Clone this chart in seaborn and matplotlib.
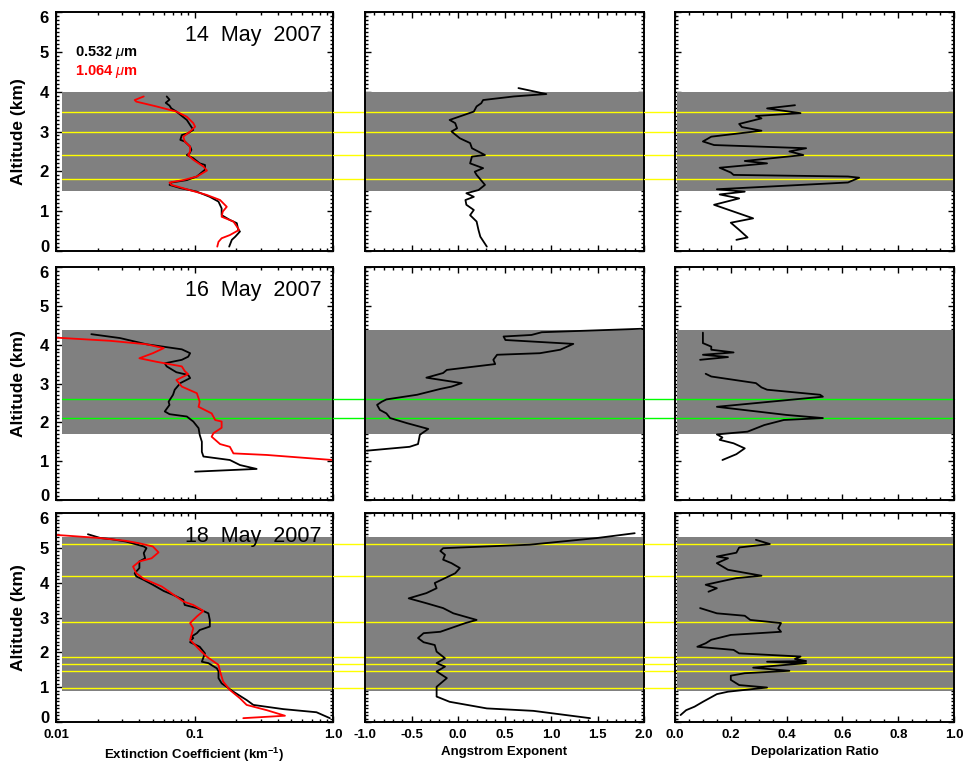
import numpy as np
import pandas as pd
import matplotlib
matplotlib.use("Agg")
import matplotlib.pyplot as plt
import matplotlib.transforms as mtransforms
from matplotlib.ticker import MultipleLocator, FixedLocator, LogLocator, NullFormatter
import seaborn as sns

# ---------------- data ----------------
# 14 May 2007
may14_alt_532 = [3.88, 3.80, 3.72, 3.65, 3.58, 3.50, 3.29, 3.04, 2.96, 2.91, 2.79, 2.75, 2.62, 2.54, 2.45, 2.41,
                 2.33, 2.20, 2.16, 2.04, 1.87, 1.78, 1.72, 1.66, 1.58, 1.49, 1.36, 1.24, 1.07, 0.90, 0.78, 0.70,
                 0.53, 0.49, 0.36, 0.28, 0.11]
may14_ext_532 = [0.063, 0.066, 0.062, 0.066, 0.068, 0.074, 0.088, 0.098, 0.090, 0.081, 0.079, 0.085, 0.093, 0.095,
                 0.092, 0.088, 0.098, 0.109, 0.119, 0.119, 0.104, 0.088, 0.068, 0.066, 0.079, 0.104, 0.129, 0.149,
                 0.157, 0.157, 0.180, 0.202, 0.207, 0.213, 0.197, 0.186, 0.178]
may14_alt_1064 = [3.88, 3.79, 3.75, 3.63, 3.50, 3.37, 3.21, 3.12, 3.00, 2.87, 2.75, 2.62, 2.50, 2.41, 2.29, 2.12,
                  2.02, 1.87, 1.78, 1.72, 1.66, 1.55, 1.41, 1.28, 1.11, 0.99, 0.86, 0.74, 0.53, 0.40, 0.32, 0.23,
                  0.11]
may14_ext_1064 = [0.043, 0.037, 0.038, 0.053, 0.074, 0.088, 0.098, 0.101, 0.093, 0.083, 0.085, 0.093, 0.093, 0.090,
                  0.098, 0.116, 0.123, 0.104, 0.083, 0.066, 0.068, 0.088, 0.122, 0.153, 0.171, 0.160, 0.157, 0.191,
                  0.210, 0.180, 0.157, 0.149, 0.146]
may14_alt_ae = [4.09, 3.94, 3.88, 3.79, 3.71, 3.63, 3.50, 3.29, 3.21, 3.08, 3.00, 2.83, 2.71, 2.58, 2.41, 2.37,
                2.20, 2.08, 1.99, 1.91, 1.66, 1.53, 1.45, 1.36, 1.28, 1.16, 1.03, 0.90, 0.74, 0.53, 0.36, 0.11]
may14_ae = [0.65, 0.95, 0.60, 0.27, 0.25, 0.20, 0.17, -0.09, -0.03, -0.01, -0.07, 0.02, 0.13, 0.15, 0.29, 0.15,
            0.13, 0.27, 0.18, 0.20, 0.29, 0.22, 0.09, 0.17, 0.08, 0.09, 0.17, 0.13, 0.20, 0.22, 0.24, 0.31]
may14_alt_dep = [3.66, 3.58, 3.46, 3.39, 3.33, 3.19, 3.11, 3.02, 2.87, 2.75, 2.66, 2.58, 2.50, 2.41, 2.26, 2.20,
                 2.09, 1.97, 1.91, 1.87, 1.84, 1.72, 1.55, 1.49, 1.42, 1.32, 1.16, 0.99, 0.82, 0.71, 0.53, 0.34,
                 0.28]
may14_dep = [0.43, 0.33, 0.45, 0.29, 0.31, 0.23, 0.24, 0.31, 0.13, 0.10, 0.14, 0.47, 0.41, 0.46, 0.25, 0.33,
             0.16, 0.20, 0.21, 0.62, 0.66, 0.62, 0.15, 0.25, 0.16, 0.23, 0.14, 0.21, 0.28, 0.20, 0.23, 0.26,
             0.22]
may14_seg = [0] * len(may14_dep)
may14_layer = (1.5, 4.0)
may14_marks = [3.5, 3.0, 2.4, 1.8]

# 16 May 2007
may16_alt_532 = [4.27, 4.17, 4.01, 3.88, 3.78, 3.69, 3.61, 3.52, 3.44, 3.29, 3.22, 3.14, 3.01, 2.84, 2.71, 2.53,
                 2.45, 2.28, 2.21, 2.15, 2.02, 1.85, 1.68, 1.50, 1.24, 1.12, 1.03, 0.90, 0.86, 0.80, 0.73]
may16_ext_532 = [0.018, 0.029, 0.045, 0.081, 0.093, 0.090, 0.081, 0.061, 0.063, 0.074, 0.090, 0.093, 0.079, 0.072,
                 0.070, 0.065, 0.066, 0.061, 0.066, 0.088, 0.098, 0.107, 0.109, 0.113, 0.113, 0.116, 0.180, 0.213,
                 0.238, 0.281, 0.101]
may16_alt_1064 = [4.18, 4.10, 4.01, 3.91, 3.78, 3.65, 3.56, 3.44, 3.32, 3.24, 3.09, 2.92, 2.75, 2.53, 2.40, 2.23,
                  2.06, 2.02, 1.86, 1.72, 1.63, 1.44, 1.37, 1.20, 1.16, 1.03]
may16_ext_1064 = [0.0101, 0.0245, 0.045, 0.060, 0.050, 0.040, 0.053, 0.081, 0.085, 0.090, 0.074, 0.081, 0.104, 0.109,
                  0.107, 0.133, 0.141, 0.157, 0.157, 0.137, 0.133, 0.153, 0.180, 0.191, 0.332, 0.99]
may16_alt_ae = [4.41, 4.32, 4.25, 4.21, 4.12, 4.02, 3.87, 3.78, 3.74, 3.61, 3.50, 3.35, 3.27, 3.15, 3.01, 2.92,
                2.86, 2.71, 2.59, 2.53, 2.45, 2.32, 2.23, 2.11, 1.98, 1.83, 1.68, 1.44, 1.37, 1.27]
may16_ae = [1.98, 0.90, 0.79, 0.49, 0.51, 1.24, 1.10, 0.88, 0.42, 0.38, 0.40, -0.12, -0.16, -0.34, 0.04, -0.07,
            -0.19, -0.44, -0.77, -0.82, -0.87, -0.84, -0.77, -0.73, -0.55, -0.32, -0.41, -0.43, -0.52, -0.98]
may16_alt_dep = [4.31, 4.04, 3.95, 3.87, 3.80, 3.74, 3.68, 3.61,
                 3.25, 3.18, 3.01, 2.90, 2.84, 2.71, 2.66, 2.40, 2.19, 2.11, 2.06, 1.93, 1.76, 1.69, 1.61, 1.55,
                 1.46, 1.33, 1.18, 1.12, 1.03]
may16_dep = [0.10, 0.10, 0.13, 0.13, 0.21, 0.10, 0.19, 0.09,
             0.11, 0.13, 0.29, 0.31, 0.33, 0.52, 0.53, 0.15, 0.40, 0.53, 0.39, 0.32, 0.26, 0.15, 0.17, 0.16,
             0.21, 0.25, 0.22, 0.20, 0.17]
may16_seg = [0] * 8 + [1] * 21
may16_layer = (1.7, 4.37)
may16_marks = [2.6, 2.1]

# 18 May 2007
may18_alt_532 = [5.39, 5.28, 5.25, 5.18, 5.04, 4.99, 4.85, 4.70, 4.61, 4.42, 4.27, 4.18, 4.08, 3.94, 3.76, 3.65,
                 3.51, 3.36, 3.27, 3.12, 2.93, 2.74, 2.64, 2.55, 2.45, 2.41, 2.36, 2.29, 2.16, 1.97, 1.73, 1.69,
                 1.54, 1.45, 1.26, 1.11, 0.87, 0.63, 0.49, 0.37, 0.28, 0.11]
may18_ext_532 = [0.017, 0.021, 0.025, 0.032, 0.043, 0.045, 0.043, 0.044, 0.040, 0.040, 0.037, 0.038, 0.043, 0.050,
                 0.060, 0.070, 0.083, 0.085, 0.104, 0.126, 0.129, 0.129, 0.109, 0.104, 0.095, 0.098, 0.095, 0.093,
                 0.109, 0.119, 0.113, 0.126, 0.145, 0.149, 0.149, 0.157, 0.191, 0.238, 0.266, 0.437, 0.76, 0.95]
may18_alt_1064 = [5.37, 5.28, 5.20, 5.13, 5.04, 4.87, 4.70, 4.61, 4.46, 4.27, 4.11, 3.89, 3.70, 3.46, 3.36, 3.19,
                  3.03, 2.84, 2.69, 2.36, 2.07, 1.88, 1.64, 1.45, 1.16, 0.92, 0.68, 0.49, 0.34, 0.18, 0.11]
may18_ext_1064 = [0.0101, 0.021, 0.032, 0.040, 0.050, 0.055, 0.049, 0.040, 0.036, 0.038, 0.043, 0.058, 0.068, 0.083,
                  0.098, 0.116, 0.104, 0.093, 0.098, 0.093, 0.109, 0.122, 0.149, 0.153, 0.161, 0.180, 0.213, 0.238,
                  0.332, 0.45, 0.225]
may18_alt_ae = [5.42, 5.28, 5.09, 5.04, 4.99, 4.91, 4.80, 4.66, 4.56, 4.42, 4.27, 4.13, 3.99, 3.84, 3.70, 3.55,
                3.41, 3.27, 3.12, 2.93, 2.84, 2.59, 2.55, 2.41, 2.29, 2.21, 2.02, 1.83, 1.69, 1.59, 1.45, 1.26,
                1.01, 0.73, 0.58, 0.39, 0.32, 0.11]
may18_ae = [1.90, 1.49, 0.77, 0.31, -0.16, -0.19, -0.14, -0.16, -0.07, 0.02, -0.03, -0.14, -0.25, -0.23, -0.34,
            -0.53, -0.34, -0.16, -0.05, 0.20, 0.08, -0.19, -0.37, -0.43, -0.37, -0.25, -0.23, -0.14, -0.23, -0.14,
            -0.23, -0.12, -0.23, -0.23, -0.09, 0.31, 0.81, 1.42]
may18_alt_dep = [5.23, 5.11, 5.01, 4.86, 4.75, 4.70, 4.56, 4.37, 4.27, 4.20, 4.13, 4.08, 3.94, 3.84, 3.74,
                 3.27, 3.12, 3.05, 2.93, 2.84, 2.69, 2.59, 2.50, 2.36, 2.26, 2.16, 2.07, 1.97, 1.88, 1.81, 1.75,
                 1.73, 1.69, 1.56, 1.47, 1.40, 1.33, 1.21, 1.06, 0.99, 0.87, 0.80, 0.58, 0.44, 0.34, 0.20]
may18_dep = [0.29, 0.34, 0.23, 0.22, 0.15, 0.19, 0.15, 0.19, 0.26, 0.31, 0.22, 0.19, 0.11, 0.15, 0.12,
             0.09, 0.15, 0.25, 0.27, 0.38, 0.37, 0.38, 0.20, 0.13, 0.11, 0.08, 0.21, 0.23, 0.45, 0.43, 0.47,
             0.33, 0.47, 0.28, 0.41, 0.25, 0.20, 0.20, 0.23, 0.33, 0.19, 0.15, 0.10, 0.07, 0.04, 0.02]
may18_seg = [0] * 15 + [1] * 31
may18_layer = (0.88, 5.3)
may18_marks = [5.1, 4.2, 2.87, 1.87, 1.67, 1.46, 0.98]

dates = ["14  May  2007", "16  May  2007", "18  May  2007"]
mark_colors = ["#ffff00", "#00ff00", "#ffff00"]

# ---------------- style ----------------
sns.set_style("ticks")
plt.rcParams['font.family'] = ['Liberation Sans', 'DejaVu Sans']
plt.rcParams['mathtext.fontset'] = 'custom'
plt.rcParams['mathtext.rm'] = 'Liberation Sans'
plt.rcParams['mathtext.it'] = 'Liberation Sans:italic'
plt.rcParams['mathtext.bf'] = 'Liberation Sans:bold'
# seaborn greys the text; the original is pure black
for key in ['text.color', 'axes.labelcolor', 'xtick.color', 'ytick.color', 'axes.edgecolor']:
    plt.rcParams[key] = 'black'

GRAY = "#808080"
RED = "#ff0000"

W, H = 963, 766
fig = plt.figure(figsize=(W / 100, H / 100), dpi=100)

cols_px = [(56, 333), (365, 644), (675, 954)]
rows_px = [(12, 251), (267, 500), (513, 722)]


def add_ax(c, r):
    x0, x1 = cols_px[c]
    y0, y1 = rows_px[r]
    return fig.add_axes([x0 / W, 1 - y1 / H, (x1 - x0) / W, (y1 - y0) / H])


rows = [
    dict(e532=(may14_alt_532, may14_ext_532), e1064=(may14_alt_1064, may14_ext_1064),
         ae=(may14_alt_ae, may14_ae), dep=(may14_alt_dep, may14_dep, may14_seg),
         layer=may14_layer, marks=may14_marks),
    dict(e532=(may16_alt_532, may16_ext_532), e1064=(may16_alt_1064, may16_ext_1064),
         ae=(may16_alt_ae, may16_ae), dep=(may16_alt_dep, may16_dep, may16_seg),
         layer=may16_layer, marks=may16_marks),
    dict(e532=(may18_alt_532, may18_ext_532), e1064=(may18_alt_1064, may18_ext_1064),
         ae=(may18_alt_ae, may18_ae), dep=(may18_alt_dep, may18_dep, may18_seg),
         layer=may18_layer, marks=may18_marks),
]

# where the gray band / marker lines start inside each column (axes fraction)
band_start = [(np.log10(0.011) + 2) / 2, 0.0, 0.006]
gap_start = [(np.log10(0.011) + 2) / 2, -(365 - 333) / 279, -(675 - 644) / 279]

left_axes = []
for r, rd in enumerate(rows):
    for c in range(3):
        ax = add_ax(c, r)
        ax.set_facecolor("white")
        if c == 0:
            ax.set_xscale("log")
            ax.set_xlim(0.01, 1.0)
        elif c == 1:
            ax.set_xlim(-1.0, 2.0)
        else:
            ax.set_xlim(0.0, 1.0)
        ax.set_ylim(0, 6)

        lo, hi = rd["layer"]
        ax.axhspan(lo, hi, xmin=band_start[c], xmax=1, color=GRAY, lw=0, zorder=1)
        for m in rd["marks"]:
            ax.axhline(m, xmin=gap_start[c], xmax=1, color=mark_colors[r], lw=1.0,
                       clip_on=False, zorder=1.5)

        if c == 0:
            a, v = rd["e532"]
            sns.lineplot(x=v, y=a, sort=False, estimator=None, color="black", lw=1.3, ax=ax, zorder=3)
            a, v = rd["e1064"]
            sns.lineplot(x=v, y=a, sort=False, estimator=None, color=RED, lw=1.3, ax=ax, zorder=3)
        elif c == 1:
            a, v = rd["ae"]
            sns.lineplot(x=v, y=a, sort=False, estimator=None, color="black", lw=1.3, ax=ax, zorder=3)
        else:
            a, v, s = rd["dep"]
            df = pd.DataFrame({"alt": a, "dep": v, "seg": s})
            sns.lineplot(data=df, x="dep", y="alt", units="seg", sort=False, estimator=None,
                         color="black", lw=1.3, ax=ax, zorder=3)

        ax.set_xlim(*ax.get_xlim())
        ax.set_ylim(0, 6)
        ax.set_xlabel("")
        ax.set_ylabel("")

        # ticks, IDL style: inside, all four sides
        ax.yaxis.set_major_locator(MultipleLocator(1))
        ax.yaxis.set_minor_locator(MultipleLocator(0.1))
        if c == 0:
            ax.xaxis.set_major_locator(FixedLocator([0.01, 0.1, 1.0]))
            ax.xaxis.set_minor_locator(LogLocator(base=10, subs=np.arange(2, 10)))
            ax.xaxis.set_minor_formatter(NullFormatter())
            ax.set_xticklabels(["0.01", "0.1", "1.0"])
        elif c == 1:
            ax.xaxis.set_major_locator(MultipleLocator(0.5))
            ax.xaxis.set_minor_locator(MultipleLocator(0.1))
            ax.xaxis.set_major_formatter(plt.FormatStrFormatter("%.1f"))
        else:
            ax.xaxis.set_major_locator(MultipleLocator(0.2))
            ax.xaxis.set_minor_locator(MultipleLocator(0.05))
            ax.xaxis.set_major_formatter(plt.FormatStrFormatter("%.1f"))

        ax.tick_params(which="both", direction="in", top=True, right=True, color="black",
                       labelcolor="black", width=1.0)
        ax.tick_params(which="major", length=4)
        ax.tick_params(which="minor", length=2)
        ax.tick_params(axis="y", labelsize=12, pad=5, labelleft=(c == 0))
        ax.tick_params(axis="x", labelsize=9.5, pad=5, labelbottom=(r == 2))
        for lab in ax.get_xticklabels() + ax.get_yticklabels():
            lab.set_fontweight("bold")
        for sp in ax.spines.values():
            sp.set_linewidth(1.4)
            sp.set_color("black")
            sp.set_zorder(4)

        if c == 0:
            left_axes.append(ax)
            ax.set_ylabel("Altitude (km)", fontsize=12.5, fontweight="bold", color="black")
            ax.yaxis.set_label_coords(-0.11, 0.5)
            ax.annotate(dates[r], xy=(1, 1), xycoords="axes fraction", xytext=(-8, -17),
                        textcoords="offset points", ha="right", va="center", fontsize=15.5,
                        color="black")
            if r == 0:
                ax.annotate("0.532 $\\mu$m", xy=(0, 1), xycoords="axes fraction", xytext=(14, -29),
                            textcoords="offset points", ha="left", va="center", fontsize=10.5,
                            fontweight="bold", color="black")
                ax.annotate("1.064 $\\mu$m", xy=(0, 1), xycoords="axes fraction", xytext=(14, -43),
                            textcoords="offset points", ha="left", va="center", fontsize=10.5,
                            fontweight="bold", color=RED)
        if r == 2:
            xlabels = ["Extinction Coefficient (km$^{\\mathbf{-1}}$)", "Angstrom Exponent", "Depolarization Ratio"]
            ax.set_xlabel(xlabels[c], fontsize=9.5, fontweight="bold", color="black")
            ax.xaxis.set_label_coords(0.5, -0.115)

# nudge the end labels of the altitude axis inward, as in the original
fig.canvas.draw()
for ax in left_axes:
    for tick in ax.yaxis.get_major_ticks():
        loc = tick.get_loc()
        if np.isclose(loc, 0):
            off = mtransforms.ScaledTranslation(0, 5 / 100, fig.dpi_scale_trans)
        elif np.isclose(loc, 6):
            off = mtransforms.ScaledTranslation(0, -5 / 100, fig.dpi_scale_trans)
        else:
            continue
        tick.label1.set_transform(tick.label1.get_transform() + off)

fig.savefig("out.png", dpi=100, facecolor="white")
